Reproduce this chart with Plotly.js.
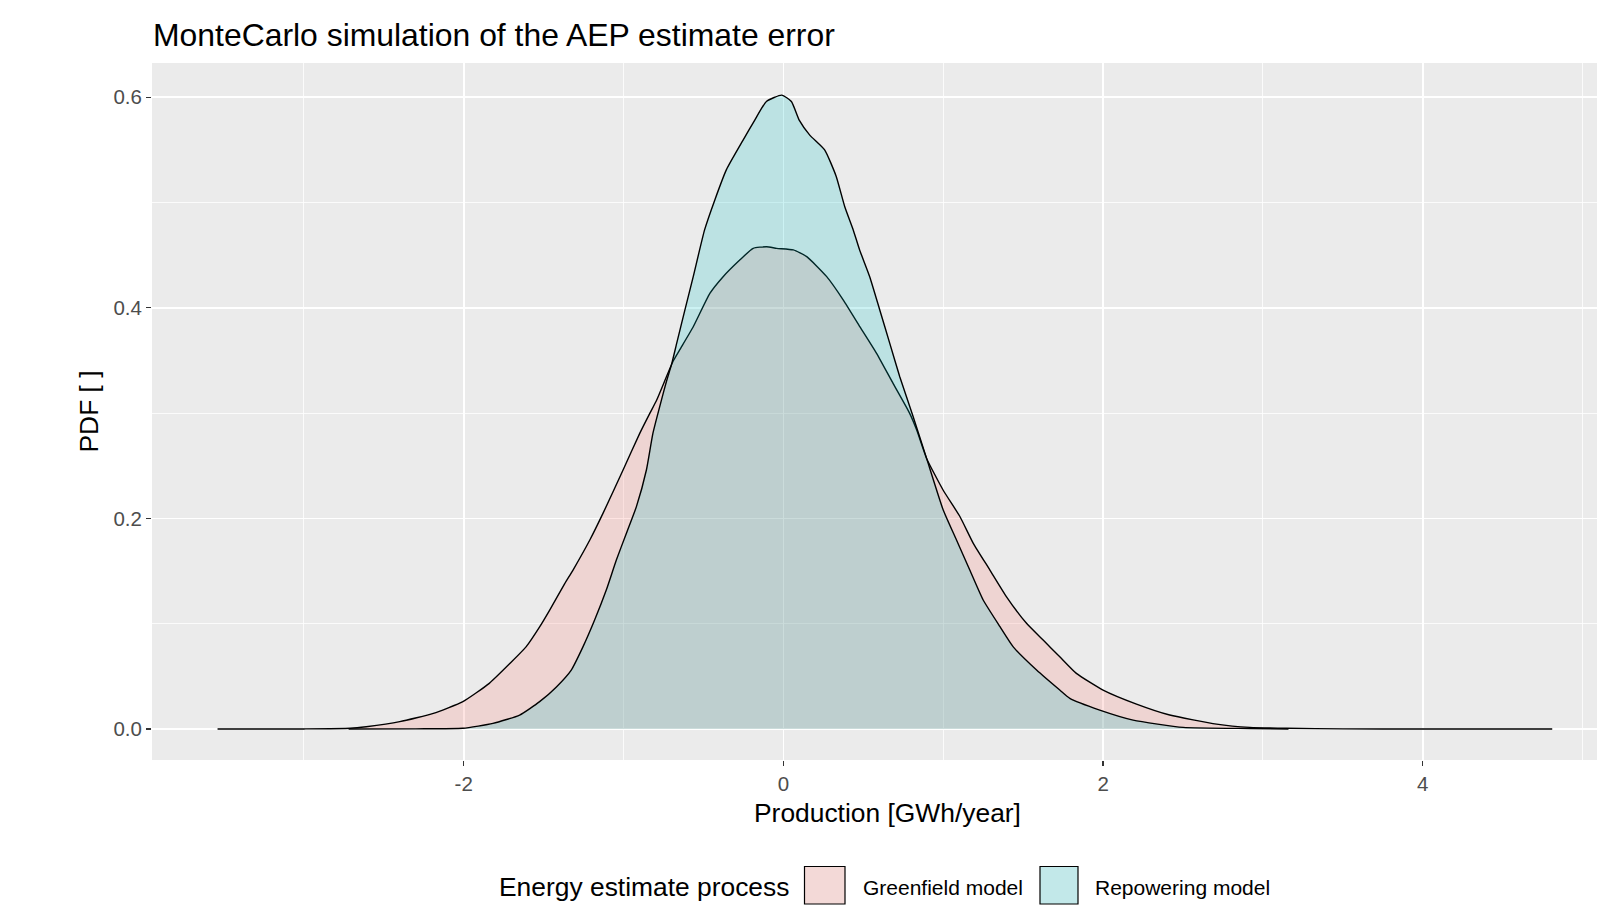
<!DOCTYPE html>
<html>
<head>
<meta charset="utf-8">
<script src="https://cdn.plot.ly/plotly-3.0.1.min.js"></script>
<style>
  html, body { margin: 0; padding: 0; background: #ffffff; }
  #chart { width: 1597px; height: 909px; }
</style>
</head>
<body>
<div id="chart"></div>
<script>
// ---- data ----
const seriesNames = ["Greenfield model", "Repowering model"];
const legendTitle = "Energy estimate process";

const greenfieldX = [-3.54, -3.2, -3.0, -2.71, -2.61, -2.40, -2.19, -2.005, -1.84, -1.71, -1.61, -1.525, -1.462, -1.368, -1.316, -1.211, -1.128, -1.003, -0.898, -0.835, -0.794, -0.691, -0.649, -0.564, -0.46, -0.377, -0.273, -0.189, -0.105, -0.042, 0.062, 0.146, 0.271, 0.375, 0.479, 0.583, 0.687, 0.79, 0.834, 0.896, 0.999, 1.105, 1.188, 1.292, 1.396, 1.521, 1.625, 1.729, 1.833, 2.0, 2.209, 2.417, 2.71, 2.918, 3.148, 3.5, 4.0, 4.4, 4.81];
const greenfieldY = [0.0, 0.0, 0.0001, 0.0007, 0.0022, 0.0070, 0.0149, 0.026, 0.0434, 0.0624, 0.078, 0.097, 0.113, 0.138, 0.151, 0.1795, 0.205, 0.246, 0.281, 0.300, 0.312, 0.349, 0.360, 0.382, 0.4137, 0.4296, 0.4454, 0.4565, 0.458, 0.4565, 0.455, 0.4486, 0.4296, 0.4074, 0.382, 0.3568, 0.328, 0.2998, 0.284, 0.257, 0.227, 0.2016, 0.1764, 0.151, 0.1256, 0.1004, 0.0845, 0.0687, 0.0529, 0.037, 0.0237, 0.0133, 0.0047, 0.0016, 0.0007, 0.0002, 0.0, 0.0, 0.0];

const repoweringX = [-2.72, -2.3, -2.005, -1.817, -1.65, -1.525, -1.42, -1.327, -1.254, -1.181, -1.108, -1.045, -0.982, -0.92, -0.857, -0.816, -0.763, -0.73, -0.70, -0.668, -0.616, -0.564, -0.493, -0.43, -0.357, -0.253, -0.18, -0.106, -0.01, 0.05, 0.10, 0.165, 0.258, 0.33, 0.384, 0.437, 0.477, 0.54, 0.603, 0.666, 0.728, 0.812, 0.896, 1.0, 1.083, 1.166, 1.25, 1.355, 1.438, 1.584, 1.729, 1.792, 1.979, 2.188, 2.501, 2.918, 3.16];
const repoweringY = [0.0, 0.0002, 0.0007, 0.0054, 0.0133, 0.026, 0.040, 0.056, 0.078, 0.1035, 0.132, 0.1605, 0.186, 0.211, 0.246, 0.281, 0.3124, 0.331, 0.346, 0.366, 0.398, 0.4296, 0.474, 0.502, 0.531, 0.559, 0.578, 0.596, 0.602, 0.596, 0.578, 0.564, 0.55, 0.525, 0.496, 0.474, 0.455, 0.4296, 0.398, 0.366, 0.3346, 0.2966, 0.257, 0.208, 0.1795, 0.151, 0.1225, 0.0972, 0.078, 0.056, 0.037, 0.0291, 0.018, 0.0085, 0.0016, 0.0005, 0.0];

const chartTitle = "MonteCarlo simulation of the AEP estimate error";
const xTitle = "Production [GWh/year]";
const yTitle = "PDF [ ]";
const xTickVals = [-2, 0, 2, 4];
const yTickVals = [0.0, 0.2, 0.4, 0.6];
const yTickText = ["0.0", "0.2", "0.4", "0.6"];

// ---- styling ----
const FONT = "Liberation Sans, Arial, sans-serif";
const fillColors = ["rgba(248,118,109,0.2)", "rgba(0,191,196,0.2)"];
const keyColors = ["#F3D9D7", "#C2E8E9"];

const W = 1597, H = 909;
const M = { l: 152, r: 0, t: 63, b: 149 };
const pw = W - M.l - M.r, ph = H - M.t - M.b;
const px = x => (x - M.l) / pw;          // pixel -> paper x
const py = y => (H - M.b - y) / ph;      // pixel -> paper y

const traces = [
  { x: greenfieldX, y: greenfieldY, name: seriesNames[0] },
  { x: repoweringX, y: repoweringY, name: seriesNames[1] }
].map((t, i) => ({
  type: "scatter", mode: "lines", x: t.x, y: t.y, name: t.name,
  fill: "tozeroy", fillcolor: fillColors[i],
  line: { color: "#000000", width: 1.4, shape: "spline", smoothing: 0.5 },
  showlegend: false, hoverinfo: "x+y+name"
}));

// custom ggplot-like legend
const keyBoxes = [[804.5, 845], [1040, 1078]];
const keyText = [860.5, 1093];
const shapes = keyBoxes.map((b, i) => ({
  type: "rect", xref: "paper", yref: "paper",
  x0: px(b[0]), x1: px(b[1]), y0: py(866.5), y1: py(904),
  fillcolor: keyColors[i], line: { color: "#000000", width: 1.2 }
}));

const annotations = [
  { text: xTitle, xref: "paper", yref: "paper", x: px(887), y: py(813.5), xanchor: "center", yanchor: "middle", showarrow: false, font: { family: FONT, size: 26.4, color: "#000000" } },
  { text: yTitle, xref: "paper", yref: "paper", x: px(88.5), y: py(412), xanchor: "center", yanchor: "middle", textangle: -90, showarrow: false, font: { family: FONT, size: 26.4, color: "#000000" } },
  { text: legendTitle, xref: "paper", yref: "paper", x: px(497), y: py(887), xanchor: "left", yanchor: "middle", showarrow: false, font: { family: FONT, size: 26.4, color: "#000000" } },
  { text: seriesNames[0], xref: "paper", yref: "paper", x: px(keyText[0]), y: py(887), xanchor: "left", yanchor: "middle", showarrow: false, font: { family: FONT, size: 21, color: "#000000" } },
  { text: seriesNames[1], xref: "paper", yref: "paper", x: px(keyText[1]), y: py(887), xanchor: "left", yanchor: "middle", showarrow: false, font: { family: FONT, size: 21, color: "#000000" } }
];

const layout = {
  width: W, height: H,
  margin: M,
  paper_bgcolor: "#FFFFFF",
  plot_bgcolor: "#EBEBEB",
  showlegend: false,
  title: {
    text: chartTitle, xref: "container", yref: "container",
    x: 153 / W, xanchor: "left", y: 1 - 35 / H, yanchor: "middle",
    font: { family: FONT, size: 31.9, color: "#000000" }
  },
  xaxis: {
    range: [-3.95, 5.09], tickvals: xTickVals, ticktext: xTickVals.map(String),
    showgrid: true, gridcolor: "#FFFFFF", gridwidth: 1.6, zeroline: false,
    ticks: "outside", ticklen: 5, tickwidth: 1.2, tickcolor: "#333333",
    tickfont: { family: FONT, size: 20.5, color: "#4D4D4D" },
    minor: { dtick: 1, tick0: 1, showgrid: true, gridcolor: "#FFFFFF", gridwidth: 0.8, ticks: "" },
    showline: false, fixedrange: true
  },
  yaxis: {
    range: [-0.0294, 0.6325], tickvals: yTickVals, ticktext: yTickText,
    showgrid: true, gridcolor: "#FFFFFF", gridwidth: 1.6, zeroline: false,
    ticks: "outside", ticklen: 5, tickwidth: 1.2, tickcolor: "#333333",
    tickfont: { family: FONT, size: 20.5, color: "#4D4D4D" },
    minor: { dtick: 0.1, tick0: 0.1, showgrid: true, gridcolor: "#FFFFFF", gridwidth: 0.8, ticks: "" },
    showline: false, fixedrange: true
  },
  shapes: shapes,
  annotations: annotations
};

Plotly.newPlot("chart", traces, layout, { displayModeBar: false, staticPlot: true });
</script>
</body>
</html>
